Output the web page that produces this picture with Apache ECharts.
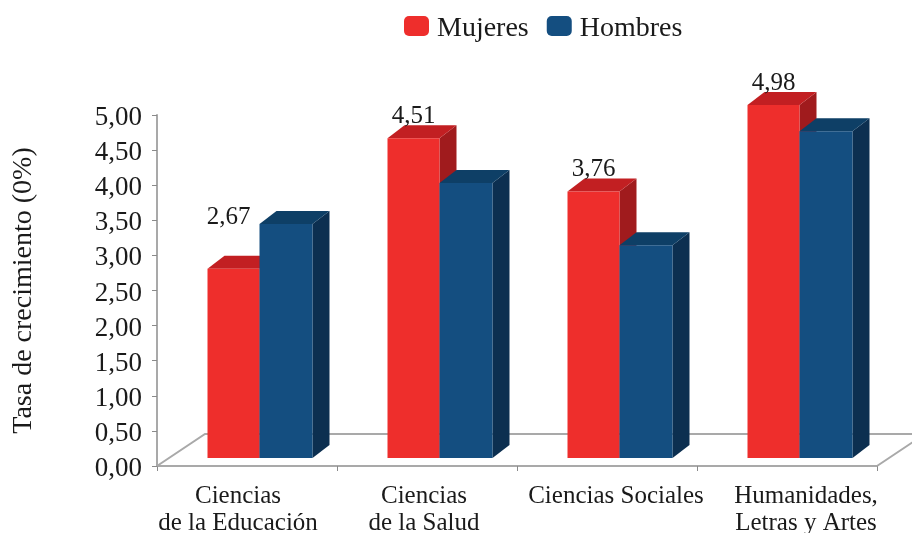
<!DOCTYPE html>
<html>
<head>
<meta charset="utf-8">
<style>html,body{margin:0;padding:0;background:#fff}#c{width:912px;height:533px}</style>
<script src="https://cdn.jsdelivr.net/npm/echarts@6/dist/echarts.min.js"></script>
</head>
<body>
<div id="c"></div>
<script>
const categories = ["Ciencias\nde la Educación", "Ciencias\nde la Salud", "Ciencias Sociales", "Humanidades,\nLetras y Artes"];
const mujeres = [2.67, 4.51, 3.76, 4.98];
const hombres = [3.30, 3.88, 3.00, 4.61];
const mujeresLabels = ["2,67", "4,51", "3,76", "4,98"];
const tickLabels = ["0,00","0,50","1,00","1,50","2,00","2,50","3,00","3,50","4,00","4,50","5,00"];

const FONT = '"Liberation Serif", serif';
const DX = 17, DY = -13;
const CATEGORY_LABEL_SHIFT = [-9, -3, 9, 19];

function bar3d(colors, fromOff, toOff, labels) {
  return function (params, api) {
    const i = api.value(0);
    const c = api.coord([i, api.value(1)]);
    const b = api.coord([i, 0]);
    const x0 = c[0] + fromOff, x1 = c[0] + toOff, t = c[1], base = b[1];
    const children = [
      {type:'polygon', shape:{points:[[x1,base],[x1+DX,base+DY],[x1+DX,t+DY],[x1,t]]}, style:{fill:colors[2]}},
      {type:'polygon', shape:{points:[[x0,t],[x0+DX,t+DY],[x1+DX,t+DY],[x1,t]]}, style:{fill:colors[1]}},
      {type:'rect', shape:{x:x0,y:t,width:x1-x0,height:base-t}, style:{fill:colors[0]}}
    ];
    if (labels) {
      const extra = i === 0 ? 30 : 0;
      children.push({type:'text', style:{
        x:(x0+x1)/2 + (i === 0 ? -5 : 0), y:t-21.5-extra, text:labels[i],
        fill:'#1a1a1a', font:'25px '+FONT, align:'center', verticalAlign:'middle'
      }});
    }
    return {type:'group', children};
  };
}

function floor(params, api) {
  const c = api.coord([0, 0]);
  const band = api.size([1, 0])[0];
  const ox = c[0] - band / 2, oy = c[1];
  const ex = ox + band * categories.length;
  const bx = 48, by = -32;
  return {type:'polyline', silent:true, shape:{points:[
    [ox,oy],[ox+bx,oy+by],[ex+bx,oy+by],[ex,oy]
  ]}, style:{stroke:'#a9a9a9', lineWidth:2, fill:'none'}};
}

function categoryLabel(params, api) {
  const i = api.value(0);
  const c = api.coord([i, 0]);
  return {type:'text', silent:true, style:{
    x:c[0] + CATEGORY_LABEL_SHIFT[i], y:c[1] + 17, text:categories[i],
    fill:'#1a1a1a', font:'25px '+FONT, lineHeight:27, align:'center', verticalAlign:'top'
  }};
}

const chart = echarts.init(document.getElementById('c'), null, {renderer:'canvas'});
chart.setOption({
  animation:false,
  backgroundColor:'#fff',
  textStyle:{fontFamily:FONT},
  legend:{
    left:404, top:15, padding:0, itemWidth:25, itemHeight:20, itemGap:18,
    icon:'roundRect',
    formatter:(n)=>'{t|'+n+'}',
    textStyle:{rich:{t:{fontFamily:FONT, fontSize:28, color:'#1a1a1a', padding:[6,0,0,3]}}},
    data:['Mujeres','Hombres']
  },
  grid:[
    {left:157, right:35, top:115, height:351, outerBoundsMode:'none'},
    {left:157, right:35, top:103.5, height:354.5, outerBoundsMode:'none'}
  ],
  xAxis:[
    {type:'category', gridIndex:0, data:categories,
     axisLine:{lineStyle:{color:'#a9a9a9',width:2}},
     axisTick:{show:true,length:5,alignWithLabel:false,lineStyle:{color:'#8a8a8a',width:1}},
     axisLabel:{show:false}},
    {type:'category', gridIndex:1, data:categories, show:false}
  ],
  yAxis:[
    {type:'value', gridIndex:0, min:0, max:5, interval:0.5,
     name:'Tasa de crecimiento (0%)', nameLocation:'middle', nameGap:119,
     nameTextStyle:{fontFamily:FONT,fontSize:28,color:'#1a1a1a'},
     splitLine:{show:false},
     axisLine:{show:true,lineStyle:{color:'#a9a9a9',width:2}},
     axisTick:{show:true,length:5,lineStyle:{color:'#8a8a8a',width:1}},
     axisLabel:{margin:15,
       rich:{t:{fontFamily:FONT,fontSize:27,color:'#1a1a1a',padding:[6,0,0,0]}},
       formatter:(v)=>'{t|'+tickLabels[Math.round(v*2)]+'}'}},
    {type:'value', gridIndex:1, min:0, max:5, show:false}
  ],
  series:[
    {type:'custom', name:'floor', xAxisIndex:0, yAxisIndex:0, clip:false, silent:true, z:1,
     renderItem:floor, data:[[0,0]], encode:{x:0,y:1}},
    {type:'custom', name:'categoryLabels', xAxisIndex:0, yAxisIndex:0, clip:false, silent:true, z:2,
     renderItem:categoryLabel, data:categories.map((c,i)=>[i,0]), encode:{x:0,y:1}},
    {type:'custom', name:'Mujeres', xAxisIndex:1, yAxisIndex:1, clip:false, z:3,
     itemStyle:{color:'#ee2e2c'},
     renderItem:bar3d(['#ee2e2c','#c21f22','#a01b1d'],-39.5,12.5,mujeresLabels),
     encode:{x:0,y:1}, data:mujeres.map((v,i)=>[i,v])},
    {type:'custom', name:'Hombres', xAxisIndex:1, yAxisIndex:1, clip:false, z:4,
     itemStyle:{color:'#144e80'},
     renderItem:bar3d(['#144e80','#0e3f66','#0c2f50'],12.5,65.5),
     encode:{x:0,y:1}, data:hombres.map((v,i)=>[i,v])}
  ]
});
</script>
</body>
</html>
